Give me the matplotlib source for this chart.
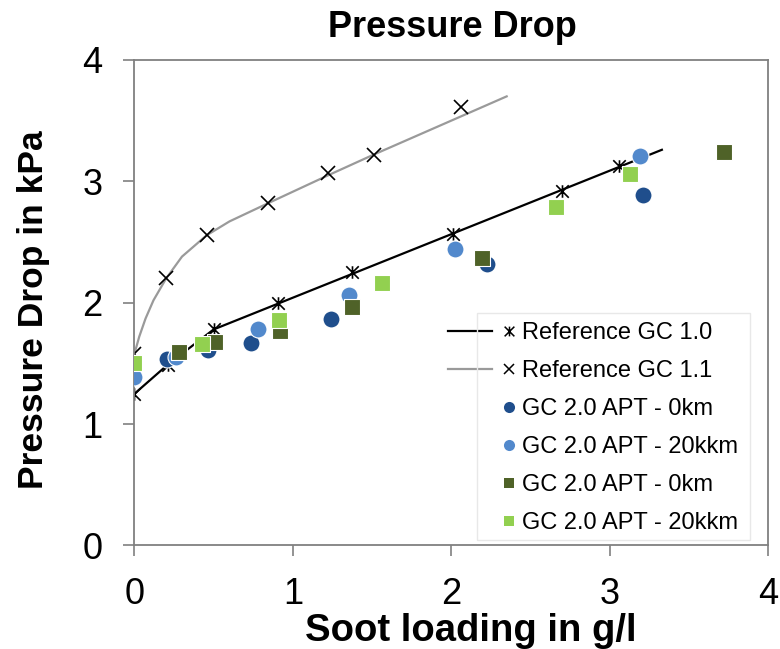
import matplotlib
matplotlib.use("Agg")
import matplotlib.pyplot as plt
from matplotlib.lines import Line2D
from matplotlib.path import Path
from matplotlib.patches import Rectangle
from matplotlib.legend_handler import HandlerBase

plt.rcParams['font.family'] = ['Liberation Sans', 'DejaVu Sans']

# ---- data ----
# Reference GC 1.0 (measured points + drawn curve)
ref10_x = [0.0, 0.21, 0.50, 0.907, 1.374, 2.01, 2.70, 3.06]
ref10_y = [1.25, 1.49, 1.78, 2.00, 2.25, 2.57, 2.92, 3.13]
ref10_line_x = [0.0, 0.21, 0.50, 3.33]
ref10_line_y = [1.25, 1.49, 1.78, 3.26]

# Reference GC 1.1
ref11_x = [0.0, 0.20, 0.455, 0.844, 1.223, 1.51, 2.064]
ref11_y = [1.58, 2.20, 2.555, 2.82, 3.07, 3.22, 3.61]
ref11_line_x = [0.0, 0.03, 0.07, 0.12, 0.20, 0.30, 0.455, 0.60, 0.844, 1.223, 1.51, 2.35]
ref11_line_y = [1.58, 1.72, 1.87, 2.02, 2.20, 2.38, 2.555, 2.67, 2.82, 3.05, 3.22, 3.70]

# GC 2.0 APT - circles
apt0_circ_x = [0.203, 0.466, 0.733, 1.238, 2.226, 3.21]
apt0_circ_y = [1.54, 1.61, 1.67, 1.87, 2.32, 2.89]
apt20_circ_x = [0.0, 0.262, 0.78, 1.353, 2.026, 3.19]
apt20_circ_y = [1.39, 1.55, 1.78, 2.06, 2.44, 3.21]

# GC 2.0 APT - squares
apt0_sq_x = [0.283, 0.508, 0.92, 1.374, 2.194, 3.725]
apt0_sq_y = [1.59, 1.68, 1.77, 1.965, 2.37, 3.24]
apt20_sq_x = [0.0, 0.424, 0.91, 1.56, 2.664, 3.13]
apt20_sq_y = [1.50, 1.66, 1.86, 2.16, 2.79, 3.06]

labels = ["Reference GC 1.0", "Reference GC 1.1", "GC 2.0 APT - 0km",
          "GC 2.0 APT - 20kkm", "GC 2.0 APT - 0km", "GC 2.0 APT - 20kkm"]

C_DARKBLUE = "#1f4e8c"
C_LIGHTBLUE = "#5289cc"
C_DARKGREEN = "#4f6228"
C_LIGHTGREEN = "#92d050"

# excel-style star: X with a vertical bar
STAR = Path([(0, -1), (0, 1), (-1, -1), (1, 1), (-1, 1), (1, -1)],
            [Path.MOVETO, Path.LINETO, Path.MOVETO, Path.LINETO, Path.MOVETO, Path.LINETO])


class SideMarker(HandlerBase):
    """line on the left part of the handle, marker close to the text"""
    def create_artists(self, legend, orig, xdescent, ydescent, width, height, fontsize, trans):
        y = height / 2 - ydescent
        arts = []
        if orig.get_linestyle() not in ('None', 'none', ''):
            arts.append(Line2D([-xdescent, -xdescent + 0.66 * width], [y, y],
                               color=orig.get_color(), lw=orig.get_linewidth(), transform=trans))
        arts.append(Line2D([-xdescent + 0.9 * width], [y], linestyle='none',
                           marker=orig.get_marker(), markersize=orig.get_markersize(),
                           markerfacecolor=orig.get_markerfacecolor(),
                           markeredgecolor=orig.get_markeredgecolor(),
                           markeredgewidth=orig.get_markeredgewidth(), transform=trans))
        return arts


fig = plt.figure(figsize=(7.8, 6.49), dpi=100)
ax = fig.add_axes([0.1724, 0.1595, 0.8122, 0.7481])

ax.plot(ref10_line_x, ref10_line_y, color='black', lw=1.6, zorder=2)
ax.plot(ref10_x, ref10_y, linestyle='none', marker=STAR, ms=9, mec='black', mew=1.2, zorder=2)
ax.plot(ref11_line_x, ref11_line_y, color='#9a9a9a', lw=1.6, zorder=2)
ax.plot(ref11_x, ref11_y, linestyle='none', marker='x', ms=10, mec='black', mew=1.2, zorder=2)

ax.scatter(apt0_circ_x, apt0_circ_y, s=150, marker='o', color=C_DARKBLUE, edgecolors='white', linewidths=0.8, zorder=3)
ax.scatter(apt20_circ_x, apt20_circ_y, s=150, marker='o', color=C_LIGHTBLUE, edgecolors='white', linewidths=0.8, zorder=3)
ax.scatter(apt0_sq_x, apt0_sq_y, s=140, marker='s', color=C_DARKGREEN, edgecolors='white', linewidths=0.8, zorder=3)
ax.scatter(apt20_sq_x, apt20_sq_y, s=140, marker='s', color=C_LIGHTGREEN, edgecolors='white', linewidths=0.8, zorder=3)

ax.set_xlim(0, 4)
ax.set_ylim(0, 4)
ax.set_xticks([0, 1, 2, 3, 4])
ax.set_yticks([0, 1, 2, 3, 4])
for s in ax.spines.values():
    s.set_color('#808080')
    s.set_linewidth(1.3)
ax.tick_params(direction='out', length=8, width=1.2, color='#808080', labelsize=26, pad=15)

ax.set_xlabel("Soot loading in g/l", fontsize=27.5, fontweight='bold')
ax.set_ylabel("Pressure Drop in kPa", fontsize=25.5, fontweight='bold')
ax.xaxis.set_label_coords(0.531, -0.14)
ax.yaxis.set_label_coords(-0.133, 0.485)
fig.text(0.58, 0.958, "Pressure Drop", fontsize=26, fontweight='bold', ha='center', va='center')

# legend with proxies
proxies = [
    Line2D([], [], color='black', lw=1.6, marker=STAR, ms=7, mec='black', mew=1.1),
    Line2D([], [], color='#9a9a9a', lw=1.6, marker='x', ms=7, mec='black', mew=1.1),
    Line2D([], [], linestyle='none', marker='o', ms=8, mfc=C_DARKBLUE, mec=C_DARKBLUE, mew=0),
    Line2D([], [], linestyle='none', marker='o', ms=8, mfc=C_LIGHTBLUE, mec=C_LIGHTBLUE, mew=0),
    Line2D([], [], linestyle='none', marker='s', ms=7.5, mfc=C_DARKGREEN, mec=C_DARKGREEN, mew=0),
    Line2D([], [], linestyle='none', marker='s', ms=7.5, mfc=C_LIGHTGREEN, mec=C_LIGHTGREEN, mew=0),
]
fig.add_artist(Rectangle((477 / 780, 1 - 540 / 649), 273 / 780, 227 / 649,
                         transform=fig.transFigure, fill=False, edgecolor='#e8e8e8', lw=1))
ax.legend(proxies, labels, handler_map={Line2D: SideMarker()}, loc='upper left',
          bbox_to_anchor=(448 / 780, 1 - 322 / 649), bbox_transform=fig.transFigure,
          frameon=False, borderpad=0, borderaxespad=0, fontsize=17, labelspacing=0.68,
          handlelength=2.85, handletextpad=0.28)

fig.savefig("out.png", dpi=100)
